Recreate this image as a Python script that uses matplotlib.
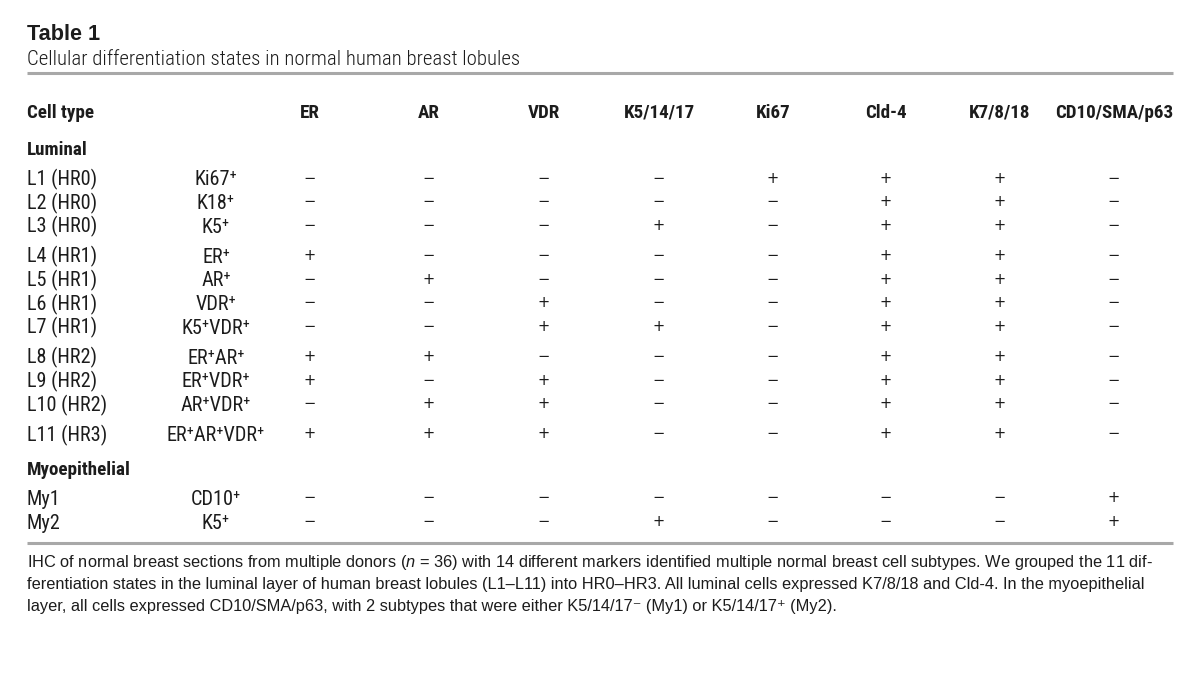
import matplotlib
matplotlib.use("Agg")
import matplotlib.pyplot as plt
from matplotlib import font_manager

# ─── Table content ────────────────────────────────────────────────────────────
title = "Table 1"
subtitle = "Cellular differentiation states in normal human breast lobules"

columns = ["ER", "AR", "VDR", "K5/14/17", "Ki67", "Cld-4", "K7/8/18", "CD10/SMA/p63"]
group_names = ["Luminal", "Myoepithelial"]

cell_types = ["L1 (HR0)", "L2 (HR0)", "L3 (HR0)",
              "L4 (HR1)", "L5 (HR1)", "L6 (HR1)", "L7 (HR1)",
              "L8 (HR2)", "L9 (HR2)", "L10 (HR2)",
              "L11 (HR3)",
              "My1", "My2"]
row_group = [0] * 11 + [1] * 2
row_block = [0, 0, 0, 1, 1, 1, 1, 2, 2, 2, 3, 4, 4]
marker_labels = ["Ki67⁺", "K18⁺", "K5⁺", "ER⁺", "AR⁺", "VDR⁺", "K5⁺VDR⁺",
                 "ER⁺AR⁺", "ER⁺VDR⁺", "AR⁺VDR⁺", "ER⁺AR⁺VDR⁺", "CD10⁺", "K5⁺"]

# 1 = "+", 0 = "−"  (ER, AR, VDR, K5/14/17, Ki67, Cld-4, K7/8/18, CD10/SMA/p63)
expression = [
    [0, 0, 0, 0, 1, 1, 1, 0],
    [0, 0, 0, 0, 0, 1, 1, 0],
    [0, 0, 0, 1, 0, 1, 1, 0],
    [1, 0, 0, 0, 0, 1, 1, 0],
    [0, 1, 0, 0, 0, 1, 1, 0],
    [0, 0, 1, 0, 0, 1, 1, 0],
    [0, 0, 1, 1, 0, 1, 1, 0],
    [1, 1, 0, 0, 0, 1, 1, 0],
    [1, 0, 1, 0, 0, 1, 1, 0],
    [0, 1, 1, 0, 0, 1, 1, 0],
    [1, 1, 1, 0, 0, 1, 1, 0],
    [0, 0, 0, 0, 0, 0, 0, 1],
    [0, 0, 0, 1, 0, 0, 0, 1],
]

footnote_lines = [
    "IHC of normal breast sections from multiple donors ($\\mathit{n}$ = 36) with 14 different markers "
    "identified multiple normal breast cell subtypes. We grouped the 11 dif-",
    "ferentiation states in the luminal layer of human breast lobules (L1–L11) into HR0–HR3. "
    "All luminal cells expressed K7/8/18 and Cld-4. In the myoepithelial",
    "layer, all cells expressed CD10/SMA/p63, with 2 subtypes that were either "
    "K5/14/17⁻ (My1) or K5/14/17⁺ (My2).",
]

# ─── Fonts ────────────────────────────────────────────────────────────────────
available = {f.name for f in font_manager.fontManager.ttflist}
NARROW = dict(family=["DejaVu Sans"], stretch="condensed")
for cand in ["Liberation Sans Narrow", "Roboto Condensed", "Noto Sans Condensed",
             "Open Sans Condensed", "Arial Narrow"]:
    if cand in available:
        NARROW = dict(family=[cand, "DejaVu Sans"])
        break
REGULAR = dict(family=["Liberation Sans", "DejaVu Sans"])
SYMBOL = dict(family=["DejaVu Sans"])

plt.rcParams.update({
    "mathtext.fontset": "custom",
    "mathtext.rm": "Liberation Sans",
    "mathtext.it": "Liberation Sans:italic",
})

TEXT = "#1c1c1c"
RULE = "#a8a8a8"

# ─── Layout (pixel coordinates) ───────────────────────────────────────────────
W, H = 1200, 691
LEFT, RIGHT = 27, 1173
MARKER_X = 216
COL_X = [310, 429, 544, 659, 773, 886, 1000, 1114]
HEADER_Y = 111
FIRST_GROUP_Y = 148
PITCH = 23.7
BLOCK_GAP = 6.3

fig = plt.figure(figsize=(W / 100, H / 100), dpi=100)
ax = fig.add_axes([0, 0, 1, 1])
ax.set_xlim(0, W)
ax.set_ylim(H, 0)
ax.axis("off")
renderer = fig.canvas.get_renderer()


def fit_size(text, target_px, **props):
    """Font size that gives the text the wanted width in pixels."""
    t = ax.text(0, 0, text, fontsize=10, **props)
    w = t.get_window_extent(renderer=renderer).width
    t.remove()
    return 10 * target_px / w


def put(x, y, s, size, ha="left", **props):
    # y is the visual middle of the capitals; place the baseline below it
    ax.text(x, y + 0.36 * size * 100 / 72, s, fontsize=size, color=TEXT,
            ha=ha, va="baseline", **props)


size_body = fit_size("L1 (HR0)", 70, **NARROW)
size_head = fit_size("CD10/SMA/p63", 118, fontweight="bold", **NARROW)
size_sub = fit_size(subtitle, 495, fontweight="light", **NARROW)
size_title = fit_size(title, 73, fontweight="bold", **REGULAR)
size_note = fit_size(footnote_lines[0], 1127, **REGULAR)
size_sym = 10.5

# Title block
put(LEFT, 32, title, size_title, fontweight="bold", **REGULAR)
put(LEFT, 57, subtitle, size_sub, fontweight="light", **NARROW)
ax.plot([LEFT, RIGHT], [73, 73], color=RULE, lw=2.2, solid_capstyle="butt")

# Column headers
put(LEFT, HEADER_Y, "Cell type", size_head, fontweight="bold", **NARROW)
for x, name in zip(COL_X, columns):
    put(x, HEADER_Y, name, size_head, ha="center", fontweight="bold", **NARROW)

# Body rows
y = FIRST_GROUP_Y
prev_group, prev_block = None, None
for i, name in enumerate(cell_types):
    if row_group[i] != prev_group:
        if prev_group is not None:
            y += PITCH + BLOCK_GAP + 4
        put(LEFT, y, group_names[row_group[i]], size_head, fontweight="bold", **NARROW)
        y += PITCH + BLOCK_GAP
        prev_group, prev_block = row_group[i], row_block[i]
    elif row_block[i] != prev_block:
        y += PITCH + BLOCK_GAP
        prev_block = row_block[i]
    else:
        y += PITCH

    put(LEFT, y, name, size_body, **NARROW)
    put(MARKER_X, y, marker_labels[i], size_body, ha="center", **NARROW)
    for x, v in zip(COL_X, expression[i]):
        ax.text(x, y, "+" if v else "−", fontsize=size_sym, color=TEXT,
                ha="center", va="center", **SYMBOL)

ax.plot([LEFT, RIGHT], [543, 543], color=RULE, lw=2.2, solid_capstyle="butt")

# Footnote
for k, line in enumerate(footnote_lines):
    put(LEFT, 561 + k * 22, line, size_note, **REGULAR)

fig.savefig("out.png", dpi=100, facecolor="white")
